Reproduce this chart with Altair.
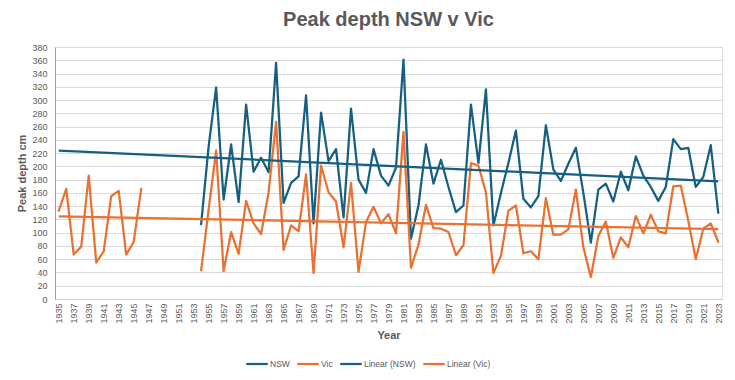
import altair as alt
import pandas as pd

years = list(range(1935, 2024))

nsw = [None] * 19 + [
    113, 230, 319, 150, 233, 146, 293, 192, 213, 191,
    356, 145, 175, 185, 307, 114, 281, 208, 226, 123,
    287, 180, 160, 226, 186, 171, 198, 361, 91, 141,
    233, 174, 210, 169, 131, 141, 293, 205, 316, 111,
    160, 205, 254, 151, 138, 155, 262, 195, 178, 204,
    228, 160, 85, 165, 174, 147, 192, 164, 215, 186,
    169, 148, 169, 241, 226, 228, 169, 184, 232, 130,
]

vic = [133, 166, 67, 79, 186, 55, 72, 155, 163, 67, 86, 166] + [None] * 7 + [
    43, 135, 224, 42, 101, 68, 148, 114, 98, 161,
    267, 74, 111, 102, 188, 39, 201, 161, 147, 78,
    175, 41, 116, 139, 114, 128, 99, 252, 47, 82,
    142, 107, 106, 101, 66, 81, 205, 201, 161, 39,
    65, 133, 141, 69, 72, 60, 152, 97, 97, 105,
    165, 78, 33, 95, 117, 62, 93, 78, 125, 99,
    127, 102, 99, 170, 171, 118, 60, 106, 114, 86,
]

series_names = ["NSW", "Vic", "Linear (NSW)", "Linear (Vic)"]
series_colors = ["#156082", "#E97132", "#156082", "#E97132"]
series_widths = [2.25, 2.25, 1.4, 1.4]

rows = []
for name, vals in (("NSW", nsw), ("Vic", vic)):
    seg = 0
    prev_none = True
    for yr, v in zip(years, vals):
        if v is None:
            prev_none = True
            continue
        if prev_none:
            seg += 1
            prev_none = False
        rows.append({"year": yr, "value": v, "series": name, "seg": f"{name}{seg}"})
df = pd.DataFrame(rows)

FONT = "Liberation Sans"
GREY = "#595959"

color_scale = alt.Scale(domain=series_names, range=series_colors)
width_scale = alt.Scale(domain=series_names, range=series_widths)

legend = alt.Legend(
    title=None, orient="none", direction="horizontal", legendX=190, legendY=305,
    symbolType="stroke", symbolSize=460, labelFont=FONT, labelFontSize=8.5,
    labelColor=GREY, columnPadding=2, labelOffset=1, gridAlign="none",
)

x_enc = alt.X(
    "year:Q",
    scale=alt.Scale(domain=[1934.5, 2023.5], nice=False, zero=False),
    axis=alt.Axis(
        values=list(range(1935, 2024, 2)), format="d", labelAngle=270,
        title="Year", grid=False, ticks=False, labelPadding=4,
        labelFont=FONT, labelFontSize=9, labelColor=GREY,
        titleFont=FONT, titleFontSize=11, titleFontWeight="bold", titleColor=GREY,
        titleY=36, titleBaseline="middle",
        domainColor="#D0D0D0", labelFlush=False, labelOverlap=False,
    ),
)
y_enc = alt.Y(
    "value:Q",
    scale=alt.Scale(domain=[0, 380], nice=False),
    axis=alt.Axis(
        values=list(range(0, 381, 20)), title="Peak depth cm", ticks=False,
        labelPadding=8, labelFont=FONT, labelFontSize=9, labelColor=GREY,
        titleFont=FONT, titleFontSize=11, titleFontWeight="bold", titleColor=GREY,
        titleX=-33, titleY=126, titleAngle=270, titleBaseline="middle",
        gridColor="#D9D9D9", domainColor="#7EA4BE",
    ),
)

lines = alt.Chart(df).transform_calculate(
    name="datum.series"
).mark_line(strokeJoin="round", strokeCap="round").encode(
    x=x_enc, y=y_enc,
    color=alt.Color("name:N", scale=color_scale, legend=legend),
    strokeWidth=alt.StrokeWidth("name:N", scale=width_scale, legend=legend),
    detail="seg:N",
)

trend = alt.Chart(df).transform_regression(
    "year", "value", groupby=["series"], extent=[1935, 2023]
).transform_calculate(
    name="'Linear (' + datum.series + ')'"
).mark_line().encode(
    x=x_enc, y=y_enc,
    color=alt.Color("name:N", scale=color_scale, legend=legend),
    strokeWidth=alt.StrokeWidth("name:N", scale=width_scale, legend=legend),
)

chart = alt.layer(lines, trend).properties(
    width=667, height=252,
    title=alt.TitleParams("Peak depth NSW v Vic", font=FONT, fontSize=20,
                          fontWeight="bold", color=GREY, anchor="middle", offset=13),
    autosize=alt.AutoSizeParams(type="none"),
    padding={"left": 47, "top": 39, "right": 5, "bottom": 70},
).configure_view(
    stroke="#B4CAD8", strokeWidth=1
).configure(background="white")

chart.save("out.html", embed_options={"renderer": "svg", "actions": False})
